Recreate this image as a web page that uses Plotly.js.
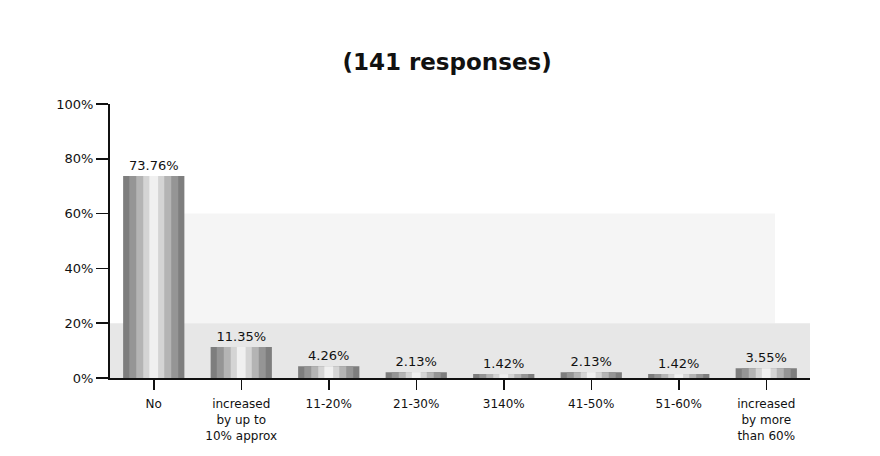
<!DOCTYPE html>
<html>
<head>
<meta charset="utf-8">
<script src="https://cdn.plot.ly/plotly-3.0.1.min.js"></script>
<style>html,body{margin:0;padding:0;background:#fff;}#chart{width:880px;height:456px;}</style>
</head>
<body>
<div id="chart"></div>
<script>
const categories = ["No", "increased<br>by up to<br>10% approx", "11-20%", "21-30%", "3140%", "41-50%", "51-60%", "increased<br>by more<br>than 60%"];
const values = [73.76, 11.35, 4.26, 2.13, 1.42, 2.13, 1.42, 3.55];
const valueLabels = ["73.76%", "11.35%", "4.26%", "2.13%", "1.42%", "2.13%", "1.42%", "3.55%"];
const tickVals = [0, 20, 40, 60, 80, 100];
const tickText = ["0%", "20%", "40%", "60%", "80%", "100%"];

const font = "'DejaVu Sans', 'Noto Sans', sans-serif";
// cylinder-like shading layers (outer to inner)
const layers = [
  {w: 0.70, c: "#7e7e7e"},
  {w: 0.56, c: "#959595"},
  {w: 0.40, c: "#b4b4b4"},
  {w: 0.24, c: "#d4d4d4"},
  {w: 0.10, c: "#f0f0f0"}
];
const traces = layers.map((l, i) => ({
  type: "bar",
  x: categories,
  y: values,
  width: l.w,
  marker: {color: l.c, line: {width: 0}},
  text: i === 0 ? valueLabels : undefined,
  textposition: i === 0 ? "outside" : "none",
  textfont: {family: font, size: 13, color: "#111"},
  cliponaxis: false,
  hoverinfo: "skip",
  showlegend: false
}));

const layout = {
  width: 880, height: 456,
  margin: {l: 110, r: 70, t: 104, b: 78},
  paper_bgcolor: "#fff", plot_bgcolor: "rgba(0,0,0,0)",
  barmode: "overlay",
  title: {text: "<b>(141 responses)</b>", font: {family: font, size: 23, color: "#111"},
          x: 0.508, xanchor: "center", y: 1 - 62/456, yanchor: "middle", yref: "container"},
  xaxis: {
    range: [-0.5, 7.5], showgrid: false, zeroline: false,
    showline: true, linecolor: "#111", linewidth: 2,
    ticks: "outside", ticklen: 10, tickwidth: 1.5, tickcolor: "#111", ticklabelstandoff: 4,
    tickfont: {family: font, size: 12, color: "#111"}, tickangle: 0, automargin: false
  },
  yaxis: {
    range: [0, 100], tickvals: tickVals, ticktext: tickText,
    showgrid: false, zeroline: false,
    showline: true, linecolor: "#111", linewidth: 2,
    ticks: "outside", ticklen: 12, tickwidth: 1.5, tickcolor: "#111",
    tickfont: {family: font, size: 13, color: "#111"}, automargin: false
  },
  shapes: [
    {type: "rect", xref: "paper", yref: "y", x0: 0, x1: 1, y0: 0, y1: 20, fillcolor: "#d4d4d4", opacity: 0.55, line: {width: 0}, layer: "below"},
    {type: "rect", xref: "paper", yref: "y", x0: 0.1, x1: 0.95, y0: 20, y1: 60, fillcolor: "#ebebeb", opacity: 0.5, line: {width: 0}, layer: "below"}
  ]
};

Plotly.newPlot("chart", traces, layout, {displayModeBar: false, staticPlot: true});
</script>
</body>
</html>
